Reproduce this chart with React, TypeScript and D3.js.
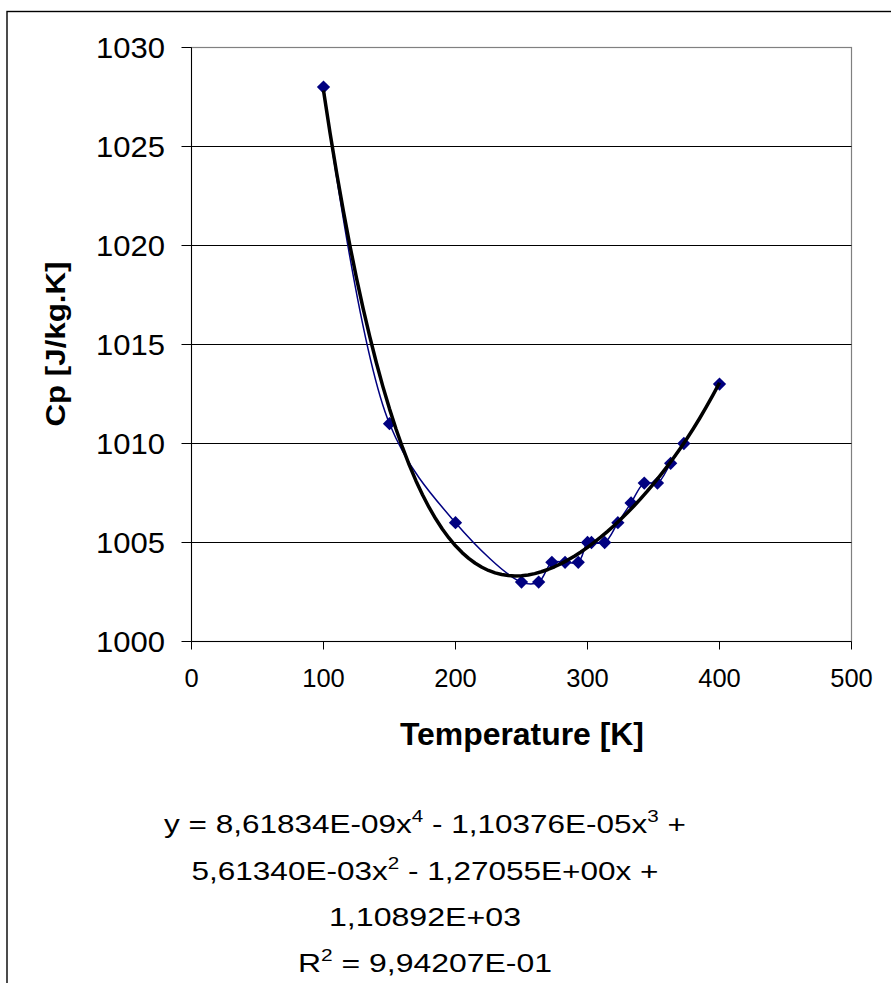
import React from 'react';
import * as d3 from 'd3';

// ---- data ----
const temperatures = [100, 150, 200, 250, 263, 273, 283, 293, 300, 303, 313, 323, 333, 343, 353, 363, 373, 400];
const cpValues = [1028, 1011, 1006, 1003, 1003, 1004, 1004, 1004, 1005, 1005, 1005, 1006, 1007, 1008, 1008, 1009, 1010, 1013];
// polynomial trendline coefficients (x^4 ... x^0), as printed on the chart
const trendCoefficients = [8.61834e-9, -1.10376e-5, 5.6134e-3, -1.27055, 1108.92];
const xTicks = [0, 100, 200, 300, 400, 500];
const yTicks = [1000, 1005, 1010, 1015, 1020, 1025, 1030];
const xTitle = 'Temperature [K]';
const yTitle = 'Cp [J/kg.K]';
type Seg = { t: string; sup?: boolean };
const equationLines: Seg[][] = [
  [{ t: 'y = 8,61834E-09x' }, { t: '4', sup: true }, { t: ' - 1,10376E-05x' }, { t: '3', sup: true }, { t: ' +' }],
  [{ t: '5,61340E-03x' }, { t: '2', sup: true }, { t: ' - 1,27055E+00x +' }],
  [{ t: '1,10892E+03' }],
  [{ t: 'R' }, { t: '2', sup: true }, { t: ' = 9,94207E-01' }],
];
const equationWidths = [522, 467, 192, 254];

const FONT = '"Liberation Sans", Arial, Helvetica, sans-serif';

export default function App() {
  const W = 891, H = 983;
  const L = 191.5, R = 851.5, T = 47.5, B = 641.5;
  const x = d3.scaleLinear().domain([0, 500]).range([L, R]);
  const y = d3.scaleLinear().domain([1000, 1030]).range([B, T]);

  const pts = temperatures.map((t, i) => [t, cpValues[i]] as [number, number]);
  const dataLine = d3
    .line<[number, number]>()
    .x((d) => x(d[0]))
    .y((d) => y(d[1]))
    .curve(d3.curveCatmullRom.alpha(0.5))(pts) as string;

  const poly = (v: number) => trendCoefficients.reduce((acc, c) => acc * v + c, 0);
  const tMin = d3.min(temperatures) as number;
  const tMax = d3.max(temperatures) as number;
  const trendX = d3.range(tMin, tMax + 0.001, (tMax - tMin) / 60);
  const trendLine = d3
    .line<number>()
    .x((v) => x(v))
    .y((v) => y(poly(v)))(trendX) as string;

  const diamond = d3.symbol().type(d3.symbolSquare).size(88)() as string;

  const eqBaselines = [833, 879.5, 926, 972];

  return (
    <svg
      width={W}
      height={H}
      style={{ position: 'absolute', left: 0, top: 0, background: '#fff' }}
      fontFamily={FONT}
    >
      <rect x={0} y={0} width={W} height={H} fill="#fff" />
      {/* outer chart frame (extends past the right/bottom edge) */}
      <rect x={7} y={11.5} width={950} height={1050} fill="none" stroke="#000" strokeWidth={1.4} />

      {/* plot area border */}
      <rect x={L} y={T} width={R - L} height={B - T} fill="#fff" stroke="#808080" strokeWidth={1.2} />
      {/* gridlines */}
      {yTicks
        .filter((v) => v !== 1000 && v !== 1030)
        .map((v) => (
          <line key={v} x1={L} x2={R} y1={y(v)} y2={y(v)} stroke="#000" strokeWidth={1} />
        ))}
      {/* axes */}
      <line x1={L} x2={L} y1={T} y2={B} stroke="#000" strokeWidth={1} />
      <line x1={L} x2={R} y1={B} y2={B} stroke="#000" strokeWidth={1} />
      {yTicks.map((v) => (
        <g key={'yt' + v}>
          <line x1={L - 10} x2={L} y1={y(v)} y2={y(v)} stroke="#000" strokeWidth={1} />
          <text x={165} y={y(v)} dy="0.36em" textAnchor="end" fontSize={29} textLength={69} lengthAdjust="spacingAndGlyphs">
            {v}
          </text>
        </g>
      ))}
      {xTicks.map((v) => (
        <g key={'xt' + v}>
          <line x1={x(v)} x2={x(v)} y1={B} y2={B + 8} stroke="#000" strokeWidth={1} />
          <text x={x(v)} y={687} textAnchor="middle" fontSize={25.5}>
            {v}
          </text>
        </g>
      ))}

      {/* series */}
      <path d={dataLine} fill="none" stroke="#000080" strokeWidth={1.5} />
      {pts.map((d, i) => (
        <path key={i} d={diamond} transform={`translate(${x(d[0])},${y(d[1])}) rotate(45)`} fill="#000080" />
      ))}
      <path d={trendLine} fill="none" stroke="#000" strokeWidth={3.5} strokeLinejoin="round" />

      {/* axis titles */}
      <text x={522} y={745} textAnchor="middle" fontSize={31} fontWeight="bold" textLength={244} lengthAdjust="spacingAndGlyphs">
        {xTitle}
      </text>
      <text
        transform="translate(65,344) rotate(-90)"
        textAnchor="middle"
        fontSize={28}
        fontWeight="bold"
        textLength={165}
        lengthAdjust="spacingAndGlyphs"
      >
        {yTitle}
      </text>

      {/* trendline equation */}
      {equationLines.map((segs, li) => {
        let shifted = false;
        return (
          <text
            key={li}
            x={425}
            y={eqBaselines[li]}
            textAnchor="middle"
            fontSize={26}
            textLength={equationWidths[li]}
            lengthAdjust="spacingAndGlyphs"
          >
            {segs.map((s, si) => {
              let dy = 0;
              if (s.sup) {
                dy = -11;
                shifted = true;
              } else if (shifted) {
                dy = 11;
                shifted = false;
              }
              return (
                <tspan key={si} dy={dy} fontSize={s.sup ? 17 : 26}>
                  {s.t}
                </tspan>
              );
            })}
          </text>
        );
      })}
    </svg>
  );
}
